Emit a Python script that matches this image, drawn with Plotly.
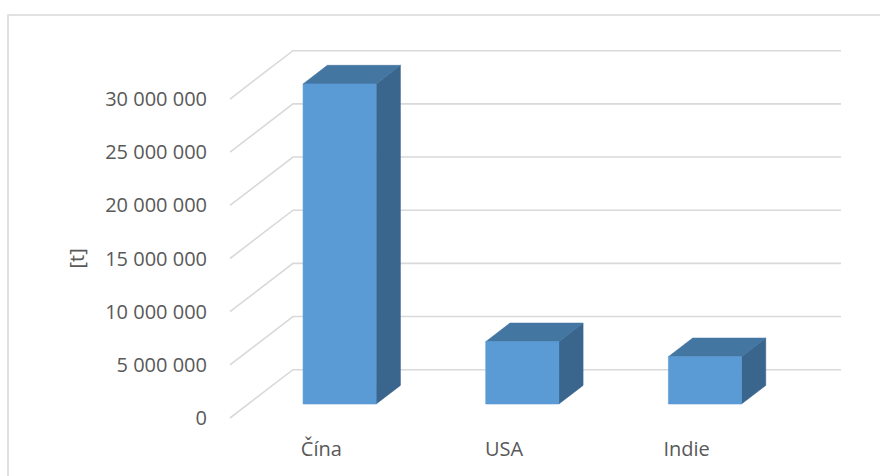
import plotly.graph_objects as go

# ---- data ----
categories = ["Čína", "USA", "Indie"]
values = [30_100_000, 5_860_000, 4_450_000]
tick_values = [0, 5_000_000, 10_000_000, 15_000_000, 20_000_000, 25_000_000, 30_000_000]
y_title = "[t]"

# ---- layout / projection constants (pixels) ----
W, H = 880, 476
FX0 = 230.0          # px of front-plane category origin
CW = 182.67          # px per category
Y0 = 418.0           # px of value 0 on front plane
PPM = 10.633         # px per 1e6 units
L_PX, R_PX, T_PX, B_PX = 222, 850, 40, 424
DEPTH_DX_PX, DEPTH_DY_PX = 63.0, 48.3

DXc = DEPTH_DX_PX / CW          # depth offset in category units
DYv = DEPTH_DY_PX / PPM * 1e6   # depth offset in value units
D0, D1 = 0.29, 0.675            # bar depth span
BW = 0.40                       # bar width (category fraction)

GRID = "#D9D9D9"
FRONT, TOP, SIDE = "#5B9BD5", "#4476A2", "#3A658D"
TXT = "#595959"
FONT = "Open Sans"

xr = [(L_PX - FX0) / CW, (R_PX - FX0) / CW]
yr = [(Y0 - B_PX) / PPM * 1e6, (Y0 - T_PX) / PPM * 1e6]

def P(x, v, d):
    return x + d * DXc, v + d * DYv

fig = go.Figure()

n = len(categories)
# back-wall / floor gridlines
for tv in tick_values:
    pts = [P(0, tv, 0), P(0, tv, 1), P(n, tv, 1)]
    fig.add_trace(go.Scatter(x=[p[0] for p in pts], y=[p[1] for p in pts], mode="lines",
                             line=dict(color=GRID, width=1.6), hoverinfo="skip", showlegend=False))

def poly(pts, color):
    xs = [p[0] for p in pts] + [pts[0][0]]
    ys = [p[1] for p in pts] + [pts[0][1]]
    fig.add_trace(go.Scatter(x=xs, y=ys, mode="lines", fill="toself", fillcolor=color,
                             line=dict(color=color, width=0.6), hoverinfo="skip", showlegend=False))

for i, v in enumerate(values):
    x0 = i + 0.5 - BW / 2
    x1 = i + 0.5 + BW / 2
    # right side face
    poly([P(x1, 0, D0), P(x1, 0, D1), P(x1, v, D1), P(x1, v, D0)], SIDE)
    # top face
    poly([P(x0, v, D0), P(x1, v, D0), P(x1, v, D1), P(x0, v, D1)], TOP)
    # front face
    poly([P(x0, 0, D0), P(x1, 0, D0), P(x1, v, D0), P(x0, v, D0)], FRONT)

# pixel -> paper helpers
def px2paper_x(px):
    return (px - L_PX) / (R_PX - L_PX)

def px2paper_y(py):
    return (B_PX - py) / (B_PX - T_PX)

# chart border
fig.add_shape(type="rect", xref="paper", yref="paper",
              x0=px2paper_x(8), x1=px2paper_x(900), y0=px2paper_y(500), y1=px2paper_y(15),
              line=dict(color=GRID, width=1.6), fillcolor="rgba(0,0,0,0)", layer="below")

# axis title, centred on the value range of the front plane
fig.add_annotation(text=y_title, xref="paper", yref="y", x=px2paper_x(76),
                   y=(tick_values[0] + tick_values[-1]) / 2, textangle=-90, showarrow=False,
                   xanchor="center", yanchor="middle", font=dict(size=20, color=TXT))

fig.update_layout(
    width=W, height=H,
    margin=dict(l=L_PX, r=W - R_PX, t=T_PX, b=H - B_PX, pad=0),
    paper_bgcolor="white", plot_bgcolor="white",
    separators=", ",
    font=dict(family=FONT, size=20, color=TXT),
    xaxis=dict(range=xr, showgrid=False, zeroline=False, showline=False,
               tickmode="array", tickvals=[i + 0.5 for i in range(n)], ticktext=categories,
               ticks="", ticklabelstandoff=11, fixedrange=True),
    yaxis=dict(range=yr, showgrid=False, zeroline=False, showline=False,
               tickmode="array", tickvals=tick_values, tickformat=",d",
               ticks="", ticklabelstandoff=14, fixedrange=True),
    showlegend=False,
)

fig.write_html("out.html")
